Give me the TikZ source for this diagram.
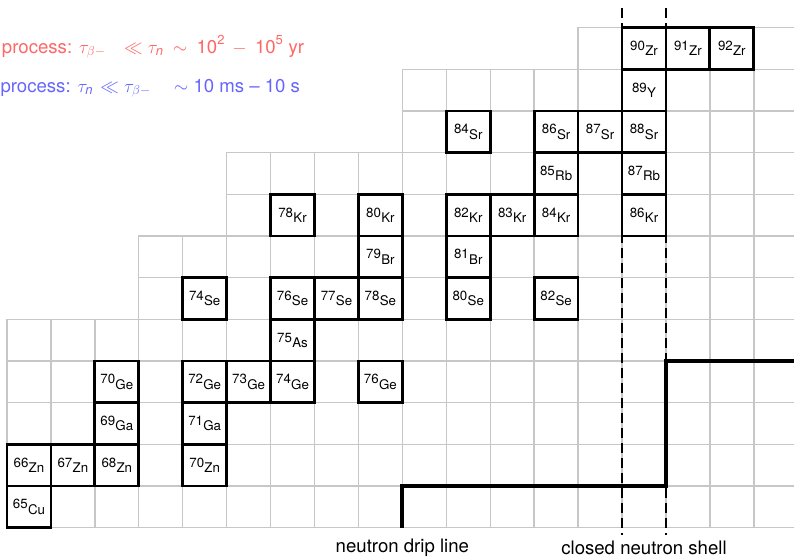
\documentclass[tikz,border=0pt]{standalone}
\usepackage{fix-cm}
\usepackage{amsmath}
\usepackage{fontspec}
\setmainfont{TeX Gyre Heros}
\newcommand\nucl[2]{\raisebox{2.65pt}{#1}\kern0.3pt\raisebox{-2.65pt}{#2}}
\begin{document}
\begin{tikzpicture}[x=43.93pt, y=-41.67pt,
  gridline/.style={draw=black!22, line width=1.4pt},
  nucbox/.style={draw=black, line width=2.8pt, minimum width=43.93pt, minimum height=41.67pt,
    inner sep=0pt, text height=12pt, text depth=3pt, font=\fontsize{13.3}{15}\selectfont},
  shellline/.style={draw=black, line width=2.8pt, dash pattern=on 10pt off 5pt},
  dripline/.style={draw=black, line width=4pt},
  labeltext/.style={inner sep=0pt, anchor=base, font=\fontsize{18.6}{22}\selectfont},
]
\path[use as bounding box] (-0.15934,-0.66475) rectangle (17.9149,12.7022);
\clip (-0.15934,-0.66475) rectangle (17.9149,12.7022);

% grid of nuclides
\foreach \r/\s in {0/13,1/9,2/9,3/5,4/5,5/3,6/3,7/0,8/0,9/0,10/0,11/0}{
  \draw[gridline] (\s,\r) rectangle (18,{\r+1});
  \foreach \c in {\s,...,18} \draw[gridline] (\c,\r) -- (\c,{\r+1});
}

% stable nuclides
\node[nucbox] (n90Zr) at (14.5,0.5) {\nucl{90}{Zr}};
\node[nucbox] (n91Zr) at (15.5,0.5) {\nucl{91}{Zr}};
\node[nucbox] (n92Zr) at (16.5,0.5) {\nucl{92}{Zr}};
\node[nucbox] (n89Y) at (14.5,1.5) {\nucl{89}{Y}};
\node[nucbox] (n84Sr) at (10.5,2.5) {\nucl{84}{Sr}};
\node[nucbox] (n86Sr) at (12.5,2.5) {\nucl{86}{Sr}};
\node[nucbox] (n87Sr) at (13.5,2.5) {\nucl{87}{Sr}};
\node[nucbox] (n88Sr) at (14.5,2.5) {\nucl{88}{Sr}};
\node[nucbox] (n85Rb) at (12.5,3.5) {\nucl{85}{Rb}};
\node[nucbox] (n87Rb) at (14.5,3.5) {\nucl{87}{Rb}};
\node[nucbox] (n78Kr) at (6.5,4.5) {\nucl{78}{Kr}};
\node[nucbox] (n80Kr) at (8.5,4.5) {\nucl{80}{Kr}};
\node[nucbox] (n82Kr) at (10.5,4.5) {\nucl{82}{Kr}};
\node[nucbox] (n83Kr) at (11.5,4.5) {\nucl{83}{Kr}};
\node[nucbox] (n84Kr) at (12.5,4.5) {\nucl{84}{Kr}};
\node[nucbox] (n86Kr) at (14.5,4.5) {\nucl{86}{Kr}};
\node[nucbox] (n79Br) at (8.5,5.5) {\nucl{79}{Br}};
\node[nucbox] (n81Br) at (10.5,5.5) {\nucl{81}{Br}};
\node[nucbox] (n74Se) at (4.5,6.5) {\nucl{74}{Se}};
\node[nucbox] (n76Se) at (6.5,6.5) {\nucl{76}{Se}};
\node[nucbox] (n77Se) at (7.5,6.5) {\nucl{77}{Se}};
\node[nucbox] (n78Se) at (8.5,6.5) {\nucl{78}{Se}};
\node[nucbox] (n80Se) at (10.5,6.5) {\nucl{80}{Se}};
\node[nucbox] (n82Se) at (12.5,6.5) {\nucl{82}{Se}};
\node[nucbox] (n75As) at (6.5,7.5) {\nucl{75}{As}};
\node[nucbox] (n70Ge) at (2.5,8.5) {\nucl{70}{Ge}};
\node[nucbox] (n72Ge) at (4.5,8.5) {\nucl{72}{Ge}};
\node[nucbox] (n73Ge) at (5.5,8.5) {\nucl{73}{Ge}};
\node[nucbox] (n74Ge) at (6.5,8.5) {\nucl{74}{Ge}};
\node[nucbox] (n76Ge) at (8.5,8.5) {\nucl{76}{Ge}};
\node[nucbox] (n69Ga) at (2.5,9.5) {\nucl{69}{Ga}};
\node[nucbox] (n71Ga) at (4.5,9.5) {\nucl{71}{Ga}};
\node[nucbox] (n66Zn) at (0.5,10.5) {\nucl{66}{Zn}};
\node[nucbox] (n67Zn) at (1.5,10.5) {\nucl{67}{Zn}};
\node[nucbox] (n68Zn) at (2.5,10.5) {\nucl{68}{Zn}};
\node[nucbox] (n70Zn) at (4.5,10.5) {\nucl{70}{Zn}};
\node[nucbox] (n65Cu) at (0.5,11.5) {\nucl{65}{Cu}};

% closed neutron shell
\coordinate (shellAtop) at (14,-0.4656);
\coordinate (shellAbot) at (14,12.175);
\coordinate (shellBtop) at (15,-0.4656);
\coordinate (shellBbot) at (15,12.175);
\draw[shellline] (shellAtop) -- (shellAbot);
\draw[shellline] (shellBtop) -- (shellBbot);

% neutron drip line
\coordinate (drip0) at (9,12);
\coordinate (drip1) at (9,11);
\coordinate (drip2) at (15,11);
\coordinate (drip3) at (15,8);
\coordinate (drip4) at (18.3,8);
\draw[dripline] (drip0) -- (drip1) -- (drip2) -- (drip3) -- (drip4);

% labels
\node[labeltext] (driplbl) at (9,12.606) {neutron drip line};
\node[labeltext] (shelllbl) at (14.5,12.637) {closed neutron shell};
\node[labeltext, anchor=base west, text=red!60] (slbl) at (-0.1184,0.6072)
  {process: $\tau_{\beta-}\mkern13mu \ll \tau_{\text{\itshape n}}\mkern4mu \sim\mkern4mu \text{10}^{\text{2}}\mkern3mu - \mkern4mu\text{10}^{\text{5}}$ yr};
\node[labeltext, anchor=base west, text=blue!60] (rlbl) at (-0.1525,1.5431)
  {process: $\tau_{\text{\itshape n}}\mkern2mu \ll \tau_{\beta-}\mkern17.5mu \sim$ 10 ms -- 10 s};
\end{tikzpicture}
\end{document}
